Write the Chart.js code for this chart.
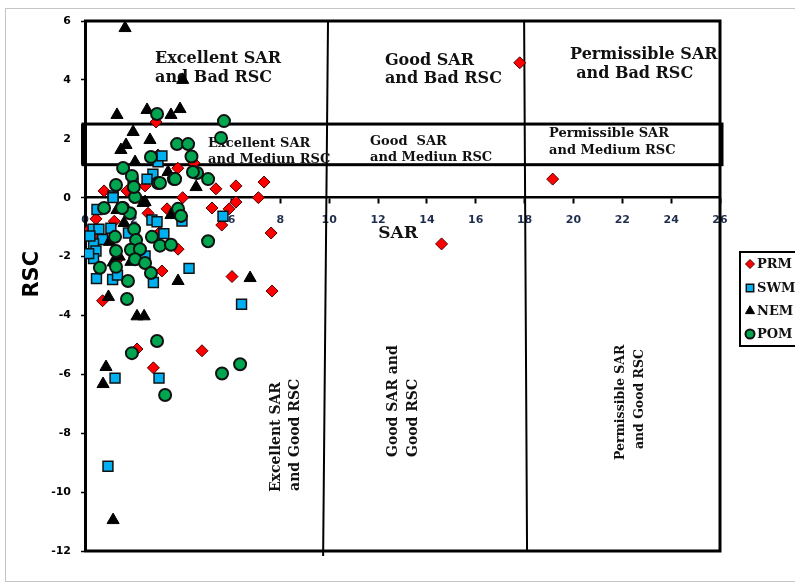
<!DOCTYPE html>
<html><head><meta charset="utf-8">
<script src="https://cdn.jsdelivr.net/npm/chart.js@4.4.1/dist/chart.umd.min.js"></script>
<style>
html,body{margin:0;padding:0;background:#fff;}
#wrap{position:relative;width:795px;height:585px;overflow:hidden;}
#frame{position:absolute;left:5px;top:8px;width:830px;height:574px;border:1px solid #c4c4c4;box-sizing:border-box;}
canvas{position:absolute;left:0;top:0;}
</style></head><body>
<div id="wrap"><div id="frame"></div><canvas id="c" width="795" height="585"></canvas></div>
<script>
// ---- data (SAR, RSC) ----
const seriesNames = ['PRM', 'SWM', 'NEM', 'POM'];
const prmPoints = [
  [17.8,4.58],[19.15,0.63],[14.6,-1.57],[7.33,0.53],[6.18,0.4],[5.36,0.3],[7.1,0.0],[6.18,-0.15],
  [4.0,0.0],[5.9,-0.38],[5.2,-0.35],[3.36,-0.38],[5.6,-0.93],[7.62,-1.2],[3.8,1.0],[6.02,-2.68],
  [7.66,-3.17],[4.79,-5.2],[2.8,-5.78],[2.13,-5.14],[0.72,-3.5],[3.15,-2.49],[3.81,-1.75],[2.46,0.4],
  [1.72,0.23],[0.78,0.23],[2.91,2.57],[2.99,1.45],[4.46,1.18],[0.45,-0.72],[2.58,-0.53],[3.07,-1.17],
  [1.31,-2.12],[0.15,-1.1],[0.3,-1.3],[1.2,-0.8]
];
const swmPoints = [
  [0.94,-9.12],[1.23,-6.13],[3.03,-6.13],[6.41,-3.62],[4.26,-2.4],[5.65,-0.63],[0.49,-0.4],[1.15,0.06],
  [0.33,-1.07],[0.57,-1.07],[1.06,-1.04],[0.72,-1.42],[0.35,-1.57],[0.45,-1.81],[0.35,-2.07],[0.47,-2.75],
  [1.13,-2.78],[1.33,-2.63],[2.8,-2.88],[2.46,-1.98],[2.74,-0.76],[2.95,-0.82],[3.23,-1.22],[1.78,-1.2],
  [2.99,1.22],[3.15,1.42],[2.78,0.8],[2.54,0.63],[1.15,0.0],[1.97,0.5],[3.97,-0.79],[0.2,-1.3],[0.15,-1.9]
];
const nemPoints = [
  [1.64,5.76],[4.0,4.0],[1.31,2.81],[2.54,2.98],[3.52,2.81],[3.89,3.01],[1.97,2.23],[2.66,1.96],
  [1.68,1.79],[1.47,1.62],[2.05,1.21],[3.4,0.87],[4.55,0.36],[2.46,-0.15],[1.31,-0.42],[1.6,-0.86],
  [3.81,-2.83],[1.88,-2.18],[0.96,-3.37],[2.13,-4.03],[2.42,-4.03],[6.76,-2.73],[0.86,-5.75],[0.74,-6.33],
  [1.15,-10.95],[3.52,-0.59],[2.38,-0.18],[1.0,-1.5],[1.4,-2.0],[2.1,-1.3],[1.15,-2.2]
];
const pomPoints = [
  [5.69,2.6],[5.57,2.03],[2.95,2.84],[3.77,1.82],[4.22,1.82],[4.36,1.4],[2.7,1.38],[1.56,1.01],
  [1.92,0.74],[4.59,0.84],[3.64,0.63],[1.27,0.43],[2.99,0.5],[5.04,0.63],[2.05,0.02],[4.42,0.87],
  [3.07,0.5],[3.81,-0.38],[3.93,-0.62],[5.04,-1.48],[0.78,-0.35],[1.56,-0.35],[1.84,-0.53],[2.01,-1.07],
  [1.23,-1.33],[2.09,-1.44],[2.74,-1.33],[3.07,-1.63],[3.52,-1.6],[1.27,-1.81],[1.88,-1.77],[2.25,-1.75],
  [2.05,-2.09],[2.46,-2.22],[0.61,-2.38],[1.27,-2.35],[2.7,-2.56],[1.76,-2.83],[1.72,-3.44],[2.95,-4.87],
  [1.92,-5.28],[5.61,-5.97],[6.35,-5.66],[3.28,-6.7],[2.0,0.36],[1.52,-0.35],[3.69,0.63]
];
const xTickValues = [0,2,4,6,8,10,12,14,16,18,20,22,24,26];
const yTickValues = [-12,-10,-8,-6,-4,-2,0,2,4,6];
const sarBounds = [10, 18];          // SAR class limits
const rscMediumBand = [1.12, 2.5];   // medium RSC band as drawn

// ---- styles ----
const seriesStyle = {
  PRM: {pointStyle:'rectRot', radius:6, bg:'#FF0000', border:'#4a0000', bw:1, order:4},
  SWM: {pointStyle:'rect', radius:7, bg:'#00B0F0', border:'#111111', bw:1.5, order:3},
  NEM: {pointStyle:'triangle', radius:7, bg:'#000000', border:'#000000', bw:1, order:2},
  POM: {pointStyle:'circle', radius:6, bg:'#00A550', border:'#111111', bw:2, order:1}
};
const seriesData = {PRM: prmPoints, SWM: swmPoints, NEM: nemPoints, POM: pomPoints};
const SERIF = '"DejaVu Serif", serif';
const SANS = '"DejaVu Sans", Verdana, sans-serif';

const regionLabels = [
  {t:'Excellent SAR', x:2.87, y:4.575, size:16},
  {t:'and Bad RSC', x:2.87, y:3.93, size:16},
  {t:'Good SAR', x:12.28, y:4.51, size:16},
  {t:'and Bad RSC', x:12.28, y:3.90, size:16},
  {t:'Permissible SAR', x:19.86, y:4.71, size:16},
  {t:'and Bad RSC', x:20.11, y:4.07, size:16},
  {t:'Excellent SAR', x:5.04, y:1.72, size:13},
  {t:'and Mediun RSC', x:5.04, y:1.18, size:13},
  {t:'Good  SAR', x:11.67, y:1.79, size:13},
  {t:'and Mediun RSC', x:11.67, y:1.25, size:13},
  {t:'Permissible SAR', x:19.0, y:2.06, size:13},
  {t:'and Medium RSC', x:19.0, y:1.48, size:13}
];
const rotatedLabels = [
  {t:'Excellent SAR', x:7.99, y:-10.0, size:14, align:'left'},
  {t:'and Good RSC', x:8.76, y:-9.96, size:14, align:'left'},
  {t:'Good SAR and', x:12.78, y:-8.81, size:14, align:'left'},
  {t:'Good RSC', x:13.6, y:-8.81, size:14, align:'left'},
  {t:'Permissible SAR', x:22.07, y:-6.95, size:12.5, align:'center'},
  {t:'and Good RSC', x:22.85, y:-6.84, size:12.5, align:'center'}
];

const frameLines = {
  id: 'frameLines',
  beforeDatasetsDraw(chart) {
    const {ctx, scales:{x, y}} = chart;
    const L = x.getPixelForValue(0), R = x.getPixelForValue(26);
    const T = y.getPixelForValue(6), B = y.getPixelForValue(-12);
    ctx.save();
    ctx.strokeStyle = '#000';
    ctx.lineCap = 'butt';
    // outer frame (top, right, bottom)
    ctx.lineWidth = 3;
    ctx.beginPath();
    ctx.moveTo(L - 1, T); ctx.lineTo(R, T); ctx.lineTo(R, B); ctx.lineTo(L - 1, B);
    ctx.stroke();
    // SAR class lines
    ctx.lineWidth = 2;
    ctx.beginPath();
    ctx.moveTo(x.getPixelForValue(sarBounds[0] - 0.05), T);
    ctx.lineTo(x.getPixelForValue(sarBounds[0] - 0.25), B + 5);
    ctx.moveTo(x.getPixelForValue(sarBounds[1] - 0.02), T);
    ctx.lineTo(x.getPixelForValue(sarBounds[1] + 0.1), B);
    ctx.stroke();
    // medium band box
    ctx.lineWidth = 3;
    const yTop = y.getPixelForValue(rscMediumBand[1]), yBot = y.getPixelForValue(rscMediumBand[0]);
    ctx.strokeRect(L - 2, yTop, R - L + 4, yBot - yTop);
    ctx.fillStyle = '#000';
    ctx.fillRect(L - 4, yTop, 5, yBot - yTop);
    // region labels
    ctx.fillStyle = '#111';
    ctx.textBaseline = 'alphabetic';
    ctx.textAlign = 'left';
    regionLabels.forEach(l => {
      ctx.font = 'bold ' + l.size + 'px ' + SERIF;
      ctx.fillText(l.t, x.getPixelForValue(l.x), y.getPixelForValue(l.y));
    });
    rotatedLabels.forEach(l => {
      ctx.save();
      ctx.translate(x.getPixelForValue(l.x), y.getPixelForValue(l.y));
      ctx.rotate(-Math.PI / 2);
      ctx.font = 'bold ' + l.size + 'px ' + SERIF;
      ctx.textAlign = l.align;
      ctx.fillText(l.t, 0, 0);
      ctx.restore();
    });
    // axis titles
    ctx.font = 'bold 17px ' + SERIF;
    ctx.textAlign = 'center';
    ctx.fillText('SAR', x.getPixelForValue(12.82), y.getPixelForValue(-1.37));
    ctx.save();
    ctx.translate(33, y.getPixelForValue(-2.6));
    ctx.rotate(-Math.PI / 2);
    ctx.font = 'bold 21px ' + SANS;
    ctx.textAlign = 'center';
    ctx.textBaseline = 'middle';
    ctx.fillStyle = '#000';
    ctx.fillText('RSC', 0, 0);
    ctx.restore();
    ctx.restore();
  },
  afterDraw(chart) {
    const {ctx} = chart;
    ctx.save();
    ctx.lineWidth = 2;
    ctx.strokeStyle = '#000';
    ctx.strokeRect(740, 252, 80, 94);
    const rows = [264, 288, 311, 334];
    seriesNames.forEach((name, i) => {
      const s = seriesStyle[name];
      ctx.fillStyle = s.bg;
      ctx.strokeStyle = s.border;
      ctx.lineWidth = s.bw;
      const opts = {pointStyle: s.pointStyle, radius: s.radius * 0.75, rotation: 0, borderWidth: s.bw};
      if (Chart.helpers && Chart.helpers.drawPoint) {
        Chart.helpers.drawPoint(ctx, opts, 750, rows[i]);
      }
      ctx.fillStyle = '#111';
      ctx.font = 'bold 13px ' + SERIF;
      ctx.textAlign = 'left';
      ctx.textBaseline = 'middle';
      ctx.fillText(name, 757, rows[i] + 1);
    });
    ctx.restore();
  }
};

const datasets = seriesNames.map(name => {
  const s = seriesStyle[name];
  return {
    label: name,
    data: seriesData[name].map(([sx, sy]) => ({x: sx, y: sy})),
    pointStyle: s.pointStyle,
    pointRadius: s.radius,
    backgroundColor: s.bg,
    borderColor: s.border,
    borderWidth: s.bw,
    order: s.order,
    showLine: false
  };
});

new Chart(document.getElementById('c').getContext('2d'), {
  type: 'scatter',
  data: {datasets},
  plugins: [frameLines],
  options: {
    responsive: false,
    animation: false,
    events: [],
    layout: {padding: {left: 5, top: 21, right: 75, bottom: 34}},
    plugins: {legend: {display: false}, tooltip: {enabled: false}},
    scales: {
      x: {
        type: 'linear',
        position: {y: 0},
        min: 0, max: 26,
        afterBuildTicks: s => { s.ticks = xTickValues.map(v => ({value: v})); },
        grid: {display: true, drawOnChartArea: false, drawTicks: true, tickLength: 5, tickColor: '#000', tickWidth: 2},
        border: {display: true, color: '#000', width: 2.5, dash: [15, 9]},
        ticks: {font: {family: SANS, size: 11, weight: 'bold'}, color: '#1F2D4D', padding: 11, maxRotation: 0, autoSkip: false}
      },
      y: {
        type: 'linear',
        position: 'left',
        min: -12, max: 6,
        afterBuildTicks: s => { s.ticks = yTickValues.map(v => ({value: v})); },
        afterFit: s => { s.width = 80; },
        grid: {display: true, drawOnChartArea: false, drawTicks: true, tickLength: 4, tickColor: '#000', tickWidth: 1.5},
        border: {display: true, color: '#000', width: 3},
        ticks: {font: {family: SANS, size: 11, weight: 'bold'}, color: '#000', padding: 10, autoSkip: false}
      }
    }
  }
});
</script>
</body></html>
